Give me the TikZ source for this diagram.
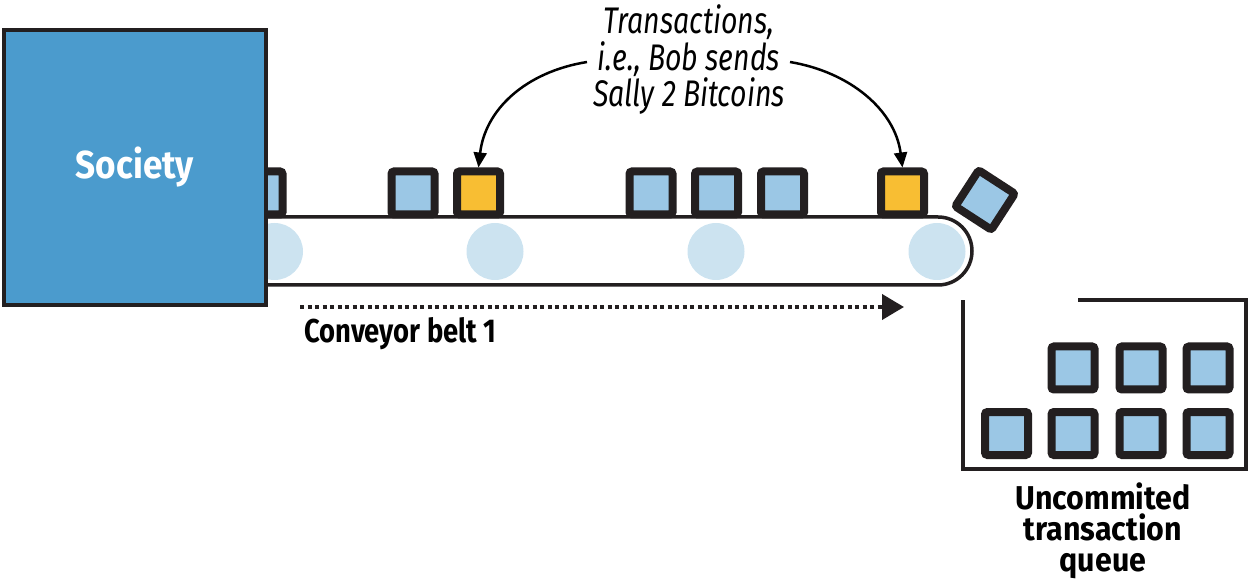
\documentclass[tikz,border=0pt]{standalone}
\usepackage{fontspec}
\setmainfont{Fira Sans}
\usetikzlibrary{arrows.meta}
\definecolor{ink}{HTML}{231F20}
\definecolor{socblue}{HTML}{4B9BCD}
\definecolor{txblue}{HTML}{9BC7E5}
\definecolor{txgoldc}{HTML}{F8BE33}
\definecolor{rollerc}{HTML}{CCE3F0}
\newcommand{\nx}[2]{\scalebox{#1}[1]{#2}}
\begin{document}
\begin{tikzpicture}[x=1pt,y=-1pt,
  roller/.style={circle, fill=rollerc, minimum size=57pt, inner sep=0pt},
  txbox/.style={rectangle, draw=ink, line width=8pt, rounded corners=2.5pt, minimum size=43pt, inner sep=0pt, fill=txblue},
  txgold/.style={txbox, fill=txgoldc},
  society/.style={draw=ink, fill=socblue, line width=4pt, minimum width=262pt, minimum height=275pt, inner sep=0pt, text=white, font=\fontsize{39}{44}\selectfont\bfseries},
  belt/.style={draw=ink, line width=3.5pt, rounded corners=34pt},
  flow/.style={draw=ink, line width=4pt, dash pattern=on 4pt off 3.5pt, -{Triangle[length=22pt,width=25pt]}},
  callout/.style={draw=black, line width=2.5pt, -{Triangle[length=15pt,width=13pt]}},
  queuebox/.style={draw=ink, line width=3.5pt},
  boldlabel/.style={text=black, inner sep=0pt},
]
\useasboundingbox (0,0) rectangle (1251,585);

% rollers
\node[roller] (r1) at (274.5,251.5) {};
\node[roller] (r2) at (495,251.5) {};
\node[roller] (r3) at (716,251.5) {};
\node[roller] (r4) at (937,251.5) {};

% belt
\draw[belt] (215,217) rectangle (972,285);

% transactions on the belt
\node[txbox] (t0) at (261,193) {};
\node[txbox] (t1) at (413,193) {};
\node[txgold] (t2) at (478.5,193) {};
\node[txbox] (t3) at (651,193) {};
\node[txbox] (t4) at (716.5,193) {};
\node[txbox] (t5) at (782.5,193) {};
\node[txgold] (t6) at (902.5,193) {};
\node[txbox, rotate=-33] (t7) at (985,200) {};

% society
\node[society] (soc) at (135,167.5) {\nx{0.9}{Society}};

% flow arrow
\coordinate (fa) at (300,307);
\coordinate (fb) at (904,307);
\draw[flow] (fa) -- (fb);
\node[boldlabel, anchor=base west, font=\fontsize{33}{38}\selectfont\bfseries] (conv) at (304,343) {\nx{0.83}{Conveyor belt 1}};

% queue
\draw[queuebox] (1078,300) -- (1246,300) -- (1246,469) -- (963,469) -- (963,300);
\node[txbox] (q1) at (1073,368) {};
\node[txbox] (q2) at (1141,368) {};
\node[txbox] (q3) at (1208,368) {};
\node[txbox] (q4) at (1006.5,433.5) {};
\node[txbox] (q5) at (1073,433.5) {};
\node[txbox] (q6) at (1141,433.5) {};
\node[txbox] (q7) at (1208,433.5) {};
\node[boldlabel, align=center, font=\fontsize{33}{31}\selectfont\bfseries] (ql) at (1103,531) {\nx{0.92}{Uncommited}\\\nx{0.92}{transaction}\\\nx{0.92}{queue}};

% transactions label
\node[boldlabel, align=center, font=\fontsize{37}{36.5}\selectfont\itshape] (lbl) at (689,60) {\nx{0.77}{Transactions,}\\\nx{0.77}{i.e., Bob sends}\\\nx{0.77}{Sally 2 Bitcoins}};
\coordinate (la) at (587,62);
\coordinate (ra) at (790,62);
\draw[callout] (la) .. controls (525,72) and (485,110) .. (t2.north);
\draw[callout] (ra) .. controls (850,72) and (895,110) .. (t6.north);
\end{tikzpicture}
\end{document}
